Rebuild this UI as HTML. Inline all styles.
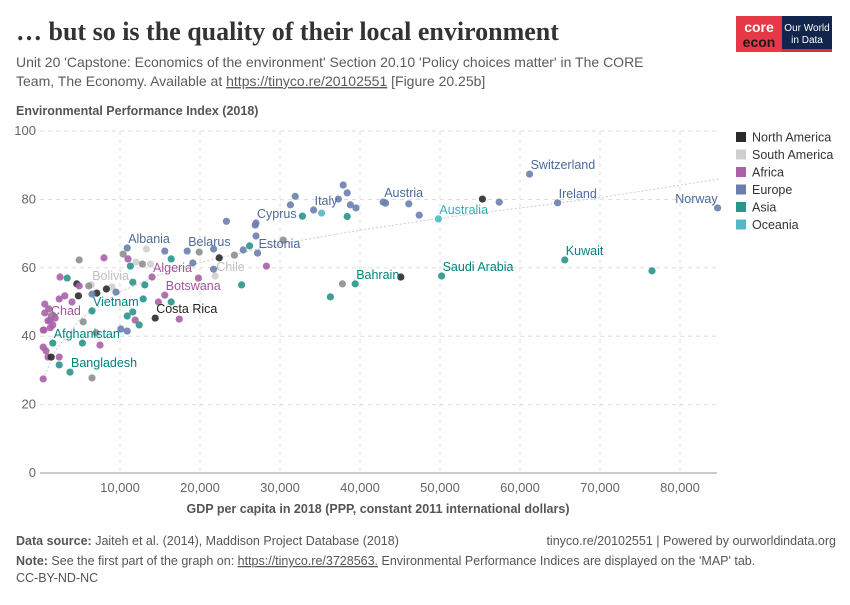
<!DOCTYPE html>
<html><head><meta charset="utf-8">
<style>
body{margin:0;background:#fff;}
svg text{font-family:"Liberation Sans",sans-serif;}
</style></head>
<body>
<svg id="chart" width="850" height="600" viewBox="0 0 850 600" xmlns="http://www.w3.org/2000/svg">
<text x="16" y="40" font-family="Liberation Serif" font-weight="bold" font-size="26" fill="#333" style="font-family:'Liberation Serif',serif">… but so is the quality of their local environment</text>
<text x="16" y="67" font-size="14" fill="#5b5b5b">Unit 20 'Capstone: Economics of the environment' Section 20.10 'Policy choices matter' in The CORE</text>
<text x="16" y="86" font-size="14" fill="#5b5b5b">Team, The Economy. Available at <tspan text-decoration="underline">https://tinyco.re/20102551</tspan> [Figure 20.25b]</text>
<g>
<rect x="736" y="16" width="46" height="36" fill="#e63946"/>
<text x="759" y="32" font-size="14" font-weight="bold" fill="#fff" text-anchor="middle">core</text>
<text x="759" y="47" font-size="14" font-weight="bold" fill="#1a1a1a" text-anchor="middle">econ</text>
<rect x="782" y="16" width="50" height="36" fill="#12254b"/>
<rect x="782" y="49" width="50" height="3" fill="#d4313b"/>
<text x="807" y="31" font-size="10" fill="#fff" text-anchor="middle">Our World</text>
<text x="807" y="43" font-size="10" fill="#fff" text-anchor="middle">in Data</text>
</g>
<text x="16" y="115" font-size="12.5" font-weight="bold" fill="#555">Environmental Performance Index (2018)</text>
<text x="378" y="513" font-size="12.5" font-weight="bold" fill="#555" text-anchor="middle">GDP per capita in 2018 (PPP, constant 2011 international dollars)</text>
<g id="grid"></g>
<g id="trend"></g>
<g id="points"></g>
<g id="labels"></g>
<g id="legend"></g>
<text x="16" y="545" font-size="12.5" fill="#555"><tspan font-weight="bold">Data source:</tspan> Jaiteh et al. (2014), Maddison Project Database (2018)</text>
<text x="836" y="545" font-size="12.5" fill="#555" text-anchor="end">tinyco.re/20102551 | Powered by ourworldindata.org</text>
<text x="16" y="565" font-size="12.5" fill="#555"><tspan font-weight="bold">Note:</tspan> See the first part of the graph on: <tspan text-decoration="underline">https://tinyco.re/3728563.</tspan> Environmental Performance Indices are displayed on the 'MAP' tab.</text>
<text x="16" y="582" font-size="12.5" fill="#555">CC-BY-ND-NC</text>
</svg>
<script>
const xTicks=[10000,20000,30000,40000,50000,60000,70000,80000];
const yTicks=[0,20,40,60,80,100];
const regionNames=["North America","South America","Africa","Europe","Asia","Oceania"];
const regionColors={"North America":"#2b2b2b","South America":"#cfcfcf","Africa":"#a960a6","Europe":"#6a7fae","Asia":"#2a958b","Oceania":"#53b8c6","Other":"#8e8e8e"};
const labelColors={"North America":"#222","South America":"#c2c2c2","Africa":"#a2559c","Europe":"#4c6a9c","Asia":"#00847e","Oceania":"#38aaba"};
// GDP per capita (thousand $)
const gdp=[61.2,64.7,84.7,42.9,43.2,49.8,34.2,35.2,27.0,27.2,65.6,76.5,50.2,39.4,37.8,36.3,45.1,55.3,57.4,47.4,46.1,38.4,37.9,38.8,39.5,37.3,31.9,31.3,32.8,38.4,
27.0,30.4,15.6,13.3,18.4,19.9,21.7,22.4,24.3,25.4,26.2,28.3,8.0,4.9,10.4,11.0,11.3,12.0,12.8,13.8,16.4,19.1,21.9,19.8,25.2,13.1,14.0,11.6,9.0,8.3,
9.5,7.1,6.5,6.4,6.1,4.6,4.9,3.4,2.5,15.6,16.4,14.8,12.9,11.6,10.9,11.9,12.4,10.1,14.4,17.4,6.5,5.4,3.1,2.4,4.0,4.8,0.6,0.6,1.25,1.6,
1.0,0.5,0.4,1.4,1.6,1.3,1.1,5.3,7.5,1.6,0.4,0.75,1.0,1.4,2.4,2.4,3.75,6.5,0.4,10.9,21.7,23.3,26.9,1.9,7.0,10.9];
// Environmental Performance Index
const epi=[87.4,79.0,77.5,79.2,78.9,74.3,76.9,76.0,73.1,64.3,62.3,59.1,57.6,55.3,55.3,51.5,57.3,80.1,79.2,75.4,78.7,81.9,84.2,78.4,77.5,80.1,80.9,78.4,75.1,75.0,
69.3,68.1,64.9,65.5,64.9,64.6,65.5,62.9,63.7,65.2,66.4,60.5,62.9,62.3,64.0,62.6,60.5,61.7,61.1,61.1,62.6,61.4,57.6,57.0,55.0,55.0,57.3,55.8,54.4,53.8,
52.9,52.6,52.3,55.0,54.7,55.3,54.7,57.0,57.3,52.0,50.0,50.0,50.9,47.1,45.9,44.7,43.3,42.1,45.3,45.0,47.4,44.2,51.8,50.9,50.0,51.8,49.4,46.8,44.7,43.3,
44.5,41.8,41.8,45.9,46.2,42.5,48.0,38.0,37.4,38.0,36.8,35.7,33.9,33.9,33.9,31.6,29.5,27.8,27.5,41.5,59.6,73.6,72.5,45.3,41.0,65.8];
const region=["Europe","Europe","Europe","Europe","Europe","Oceania","Europe","Oceania","Europe","Europe","Asia","Asia","Asia","Asia","Other","Asia","North America","North America","Europe","Europe","Europe","Europe","Europe","Europe","Europe","Europe","Europe","Europe","Asia","Asia",
"Europe","Other","Europe","South America","Europe","Other","Europe","North America","Other","Europe","Asia","Africa","Africa","Other","Other","Africa","Asia","South America","Other","South America","Asia","Europe","South America","Africa","Asia","Asia","Africa","Asia","South America","North America",
"Europe","North America","Europe","South America","Other","North America","Africa","Asia","Africa","Africa","Asia","Africa","Asia","Asia","Asia","Africa","Asia","Europe","North America","Africa","Asia","Other","Africa","Africa","Africa","North America","Africa","Africa","Africa","Africa",
"Africa","Africa","Africa","Africa","Other","Africa","Africa","Asia","Africa","Asia","Africa","Africa","Africa","North America","Africa","Asia","Asia","Other","Africa","Europe","Europe","Europe","Europe","Africa","Other","Europe"];
const labelNames=["Switzerland","Ireland","Norway","Austria","Australia","Italy","Cyprus","Estonia","Kuwait","Saudi Arabia","Bahrain","Albania","Belarus","Algeria","Bolivia","Chile","Botswana","Vietnam","Chad","Costa Rica","Afghanistan","Bangladesh"];
const labelIdx=[0,1,2,3,5,6,8,9,10,12,13,115,34,56,63,52,69,80,88,78,99,106];
const trendGdp=[0.4,2,5,10,15,20,30,40,50,60,70,85];
const trendEpi=[27.5,36,45,53,58,61.5,67,71,74.5,77.5,80.5,86];

const NS="http://www.w3.org/2000/svg";
const X=v=>40+v*8.0, Y=v=>473-v*3.42;
function mk(tag,attrs,parent){const e=document.createElementNS(NS,tag);for(const k in attrs)e.setAttribute(k,attrs[k]);parent.appendChild(e);return e;}
const grid=document.getElementById('grid');
yTicks.forEach(t=>{
  const l=mk('line',{x1:40,x2:717,y1:Y(t),y2:Y(t),stroke:t===0?'#999':'#ddd','stroke-dasharray':t===0?'':'4,4'},grid);
  
  
  const tx=mk('text',{x:36,y:Y(t)+4,'font-size':13,fill:'#666','text-anchor':'end'},grid);tx.textContent=t;
  
  
});
xTicks.forEach(t=>{
  const l=mk('line',{x1:X(t/1000),x2:X(t/1000),y1:131,y2:473,stroke:'#ddd','stroke-dasharray':'4,4'},grid);
  
  
  const tx=mk('text',{x:X(t/1000),y:492,'font-size':13,fill:'#666','text-anchor':'middle'},grid);tx.textContent=t.toLocaleString('en-US');
  
  
});
const tg=document.getElementById('trend');
const tp=mk('polyline',{points:trendGdp.map((g,i)=>X(g)+','+Y(trendEpi[i])).join(' '),fill:'none',stroke:'#ccc','stroke-width':1,'stroke-dasharray':'2,2'},tg);


const pg=document.getElementById('points');
gdp.forEach((g,i)=>{
  const c=mk('circle',{cx:X(g),cy:Y(epi[i]),r:3.6,fill:regionColors[region[i]],opacity:0.9},pg);
  
  
});
const lg=document.getElementById('labels');
labelIdx.forEach((idx,k)=>{
  const isEnd=labelNames[k]==='Norway';
  const t=mk('text',{x:X(gdp[idx])+(isEnd?0:1),y:Y(epi[idx])-5,'font-size':12.5,fill:labelColors[region[idx]]||'#555','text-anchor':isEnd?'end':'start'},lg);
  t.textContent=labelNames[k];
  
  
});
const leg=document.getElementById('legend');
regionNames.forEach((n,i)=>{
  const y=132+i*17.5;
  const r=mk('rect',{x:736,y:y,width:10,height:10,fill:regionColors[n]},leg);
  
  
  const t=mk('text',{x:752,y:y+9.5,'font-size':12.5,fill:'#333'},leg);t.textContent=n;
  
  
});
</script>
</body></html>
